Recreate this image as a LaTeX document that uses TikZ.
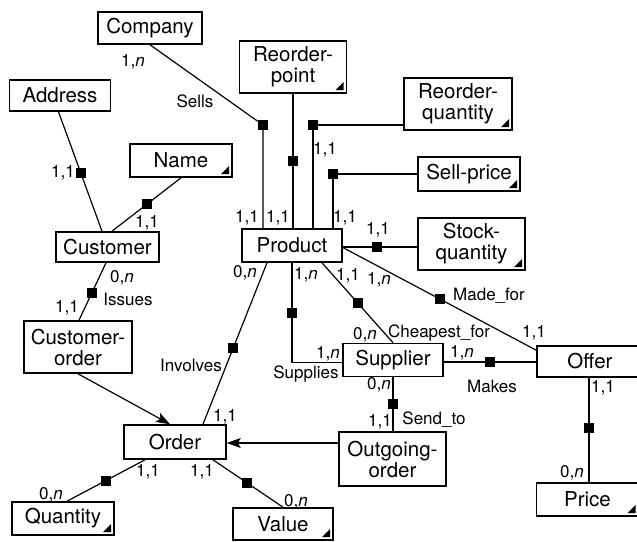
\documentclass[tikz,border=0pt]{standalone}
\usepackage{fontspec}
\setmainfont{TeX Gyre Heros}
\usepackage{tikz}
\usetikzlibrary{arrows.meta,calc}

\begin{document}
\begin{tikzpicture}[x=1pt,y=-1pt,
  ent/.style={draw,line width=1.6pt,align=center,inner sep=0pt,
    font=\fontsize{20.5}{21}\selectfont},
  sz/.style 2 args={minimum width=#1pt,minimum height=#2pt},
  attr/.style={ent,path picture={\fill ([shift={(-3pt,3pt)}]path picture bounding box.south east)
    -- ++(-8pt,0pt) -- ++(8pt,8pt) -- cycle;}},
  sq/.style={fill,minimum size=10pt,inner sep=0pt},
  lbl/.style={font=\fontsize{17}{18}\selectfont,inner sep=0pt},
  conn/.style={line width=1.2pt},
  isa/.style={conn,-{Stealth[length=14pt,width=10pt,inset=3pt]}}]
\useasboundingbox (0,0) rectangle (637,541);

% entities and attributes
\node[ent,sz={104}{32}] (company) at (150,28) {Company};
\node[attr,sz={107}{52}] (rpoint) at (293,67) {Reorder-\\point};
\node[ent,sz={101}{31}] (address) at (60,95.5) {Address};
\node[attr,sz={102}{33}] (name) at (181,160.5) {Name};
\node[attr,sz={108}{52}] (rqty) at (458,104) {Reorder-\\quantity};
\node[attr,sz={102}{34}] (sprice) at (469,174) {Sell-price};
\node[attr,sz={107}{52}] (sqty) at (471.5,244) {Stock-\\quantity};
\node[ent,sz={103}{30}] (customer) at (107.5,247) {Customer};
\node[ent,sz={100}{33}] (product) at (292,245.5) {Product};
\node[ent,sz={108}{52}] (corder) at (78,347) {Customer-\\order};
\node[ent,sz={100}{33}] (supplier) at (393,360) {Supplier};
\node[ent,sz={106}{31}] (offer) at (590,361.5) {Offer};
\node[ent,sz={102}{34}] (order) at (175,442) {Order};
\node[ent,sz={107}{54}] (oorder) at (392.5,459) {Outgoing-\\order};
\node[attr,sz={102}{33}] (quantity) at (63,518.5) {Quantity};
\node[attr,sz={100}{32}] (value) at (283,524) {Value};
\node[attr,sz={102}{33}] (price) at (587.5,499.5) {Price};

% relationships
\node[sq] (s_sells) at (263,125) {};
\draw[conn] (company.south) -- (s_sells) -- (s_sells |- product.north);
\draw[conn] (rpoint.south) -- (rpoint.south |- product.north) node[sq,pos=0.5] (s_rpoint) {};
\node[sq] (s_rqty) at (313,125) {};
\draw[conn] (s_rqty -| rqty.west) -- (s_rqty) -- (s_rqty |- product.north);
\node[sq] (s_sprice) at (333,174) {};
\draw[conn] (s_sprice -| sprice.west) -- (s_sprice) -- (s_sprice |- product.north);
\coordinate (c_sqty) at (0,247);
\draw[conn] (c_sqty -| product.east) -- (c_sqty -| sqty.west) node[sq,pos=0.46] (s_sqty) {};
\draw[conn] ([yshift=-2pt]product.east) -- ([yshift=-5pt]offer.north west) node[sq,pos=0.5] (s_madefor) {};
\draw[conn] ([xshift=30pt]product.south) -- (supplier.north) node[sq,pos=0.5] (s_cheap) {};
\draw[conn] (product.south) |- ([yshift=-2.5pt]supplier.west) node[sq,pos=0.25] (s_supplies) {};
\draw[conn] ([xshift=-25pt]product.south) -- ([xshift=28pt]order.north) node[sq,pos=0.53] (s_involves) {};
\draw[conn] ([yshift=-2pt]supplier.east) -- ([yshift=-2pt]supplier.east -| offer.west) node[sq,pos=0.5] (s_makes) {};
\draw[conn] (supplier.south) -- (supplier.south |- oorder.north) node[sq,pos=0.5] (s_sendto) {};
\draw[conn] ([xshift=1.5pt]price.north |- offer.south) -- ([xshift=1.5pt]price.north) node[sq,pos=0.48] (s_price) {};
\draw[conn] ([xshift=-1.5pt]address.south) -- ([xshift=-5.5pt]customer.north) node[sq,pos=0.51] (s_address) {};
\draw[conn] (name.south) -- ([xshift=4.5pt]customer.north) node[sq,pos=0.49] (s_name) {};
\draw[conn] ([xshift=-1.5pt]customer.south) -- ([xshift=1pt]corder.north) node[sq,pos=0.52] (s_issues) {};
\draw[conn] ([xshift=-30pt]order.south) -- ([xshift=4pt]quantity.north) node[sq,pos=0.5] (s_qty) {};
\draw[conn] ([xshift=38pt]order.south) -- (value.north) node[sq,pos=0.49] (s_value) {};
\draw[isa] (corder.south) -- ([xshift=-5pt]order.north);
\draw[isa] ([yshift=-1pt]order.east -| oorder.west) -- ([yshift=-1pt]order.east);

% cardinalities and names
\node[lbl] (l1) at (133,62) {1,\textit{n}};
\node[lbl] (l2) at (195,101) {Sells};
\node[lbl] (l3) at (63,173) {1,1};
\node[lbl] (l4) at (147,223) {1,1};
\node[lbl] (l5) at (247,218) {1,1};
\node[lbl] (l6) at (278,218) {1,1};
\node[lbl] (l7) at (345,218) {1,1};
\node[lbl] (l8) at (325,150) {1,1};
\node[lbl] (l9) at (378,230) {1,1};
\node[lbl] (l10) at (122,278) {0,\textit{n}};
\node[lbl] (l11) at (128,299) {Issues};
\node[lbl] (l12) at (67,308) {1,1};
\node[lbl] (l13) at (245,273) {0,\textit{n}};
\node[lbl] (l14) at (306,275) {1,\textit{n}};
\node[lbl] (l15) at (348,276) {1,1};
\node[lbl] (l16) at (379,280) {1,\textit{n}};
\node[lbl] (l17) at (489,296) {Made\_for};
\node[lbl] (l18) at (534,333) {1,1};
\node[lbl] (l19) at (365,335) {0,\textit{n}};
\node[lbl] (l20) at (439,333) {Cheapest\_for};
\node[lbl] (l21) at (328,354) {1,\textit{n}};
\node[lbl] (l22) at (306,374) {Supplies};
\node[lbl] (l23) at (462,353) {1,\textit{n}};
\node[lbl] (l24) at (492,386) {Makes};
\node[lbl] (l25) at (191,365) {Involves};
\node[lbl] (l26) at (225,417) {1,1};
\node[lbl] (l27) at (379,385) {0,\textit{n}};
\node[lbl] (l28) at (380,422) {1,1};
\node[lbl] (l29) at (434,420) {Send\_to};
\node[lbl] (l30) at (603,388) {1,1};
\node[lbl] (l31) at (572,473) {0,\textit{n}};
\node[lbl] (l32) at (148,472) {1,1};
\node[lbl] (l33) at (51,495) {0,\textit{n}};
\node[lbl] (l34) at (202,472) {1,1};
\node[lbl] (l35) at (296,502) {0,\textit{n}};
\end{tikzpicture}
\end{document}
